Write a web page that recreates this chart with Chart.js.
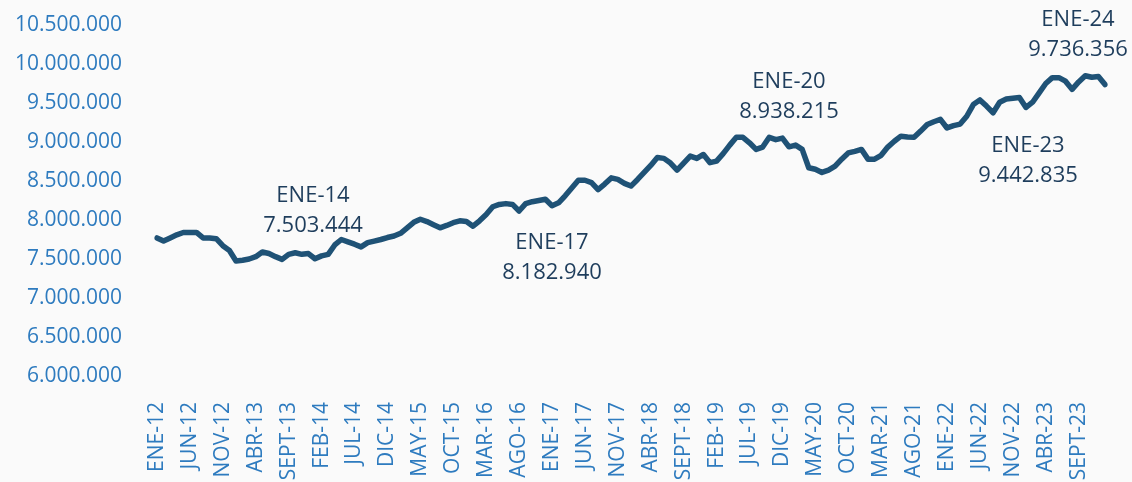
<!DOCTYPE html>
<html>
<head>
<meta charset="utf-8">
<script src="https://cdn.jsdelivr.net/npm/chart.js@4.4.0/dist/chart.umd.min.js"></script>
<style>
  html, body { margin: 0; padding: 0; background: #fafafa; }
  canvas { display: block; }
</style>
</head>
<body>
<canvas id="chartSerie" width="1132" height="482"></canvas>
<script>
const meses = ['ENE','FEB','MAR','ABR','MAY','JUN','JUL','AGO','SEPT','OCT','NOV','DIC'];
const anioInicio = 2012;

const valores = [
  7770000, 7730000, 7770000, 7810000, 7840000, 7840000, 7840000, 7770000, 7770000, 7760000, 7670000, 7610000,
  7475000, 7485000, 7500000, 7530000, 7590000, 7570000, 7530000, 7495000, 7560000, 7580000, 7560000, 7570000,
  7503444, 7540000, 7560000, 7680000, 7750000, 7720000, 7690000, 7655000, 7710000, 7730000, 7750000, 7775000,
  7795000, 7830000, 7900000, 7970000, 8010000, 7980000, 7940000, 7900000, 7930000, 7965000, 7990000, 7980000,
  7920000, 7990000, 8070000, 8170000, 8200000, 8210000, 8200000, 8115000, 8210000, 8235000, 8250000, 8265000,
  8182940, 8220000, 8310000, 8410000, 8510000, 8510000, 8480000, 8390000, 8460000, 8540000, 8520000, 8470000,
  8435000, 8520000, 8610000, 8700000, 8800000, 8790000, 8730000, 8640000, 8730000, 8820000, 8790000, 8840000,
  8735000, 8755000, 8850000, 8960000, 9060000, 9060000, 8990000, 8905000, 8935000, 9060000, 9030000, 9050000,
  8938215, 8960000, 8905000, 8670000, 8650000, 8610000, 8640000, 8690000, 8780000, 8860000, 8880000, 8905000,
  8780000, 8780000, 8830000, 8935000, 9010000, 9075000, 9065000, 9060000, 9140000, 9225000, 9260000, 9290000,
  9180000, 9210000, 9230000, 9330000, 9480000, 9540000, 9460000, 9375000, 9510000, 9550000, 9560000, 9570000,
  9442835, 9510000, 9630000, 9750000, 9825000, 9825000, 9780000, 9675000, 9770000, 9850000, 9830000, 9840000,
  9736356
];

const yMin = 6000000;
const yMax = 10500000;
const yPaso = 500000;
const cadaN = 5; // se rotula un mes de cada cinco

const notaIdx = [24, 60, 96, 132, 144];
const notaMes = ['ENE-14', 'ENE-17', 'ENE-20', 'ENE-23', 'ENE-24'];
const notaValor = ['7.503.444', '8.182.940', '8.938.215', '9.442.835', '9.736.356'];

const etiquetas = valores.map((v, i) => {
  const m = meses[i % 12];
  const a = String((anioInicio + Math.floor(i / 12)) % 100).padStart(2, '0');
  return m + '-' + a;
});

const fmt = n => String(n).replace(/\B(?=(\d{3})+(?!\d))/g, '.');

// donde va cada rotulo respecto a su punto (dx, dy de la primera linea)
const notaPos = [
  { dx: -2, dy: -63 },
  { dx: 0, dy: 37 },
  { dx: 0, dy: -65 },
  { dx: 2, dy: 38 },
  { dx: -27, dy: -65 }
];

const notas = {
  id: 'notas',
  afterDatasetsDraw(chart) {
    const c = chart.ctx;
    const x = chart.scales.x, y = chart.scales.y;
    c.save();
    c.font = '22px "Open Sans"';
    c.fillStyle = '#1e3d5c';
    c.textAlign = 'center';
    c.textBaseline = 'middle';
    notaIdx.forEach((idx, k) => {
      const px = x.getPixelForValue(idx) + notaPos[k].dx;
      const py = y.getPixelForValue(valores[idx]) + notaPos[k].dy;
      c.fillText(notaMes[k], px, py);
      c.fillText(notaValor[k], px, py + 30);
    });
    c.restore();
  }
};

const ctx = document.getElementById('chartSerie');

new Chart(ctx, {
  type: 'line',
  data: {
    labels: etiquetas,
    datasets: [{
      data: valores,
      borderColor: '#1f5276',
      borderWidth: 5.5,
      pointRadius: 0,
      tension: 0,
      borderJoinStyle: 'round',
      borderCapStyle: 'round'
    }]
  },
  plugins: [notas],
  options: {
    responsive: false,
    devicePixelRatio: 1,
    animation: false,
    layout: { padding: { top: 25, right: 27, left: 0, bottom: 0 } },
    plugins: {
      legend: { display: false },
      tooltip: { enabled: false }
    },
    scales: {
      x: {
        offset: false,
        grid: { display: false },
        border: { display: false },
        afterFit(scale) { scale.height = 106; },
        ticks: {
          autoSkip: false,
          maxRotation: 90,
          minRotation: 90,
          padding: 18,
          color: '#2e7bbf',
          font: { family: 'Open Sans', size: 21 },
          callback(val, i) {
            return i % cadaN === 0 ? etiquetas[i] : null;
          }
        }
      },
      y: {
        min: yMin,
        max: yMax,
        grid: { display: false },
        border: { display: false },
        afterFit(scale) {
          scale.width = 157;
          scale.paddingTop = 0;
          scale.paddingBottom = 0;
        },
        ticks: {
          stepSize: yPaso,
          padding: 27,
          color: '#2e7bbf',
          font: { family: 'Open Sans', size: 21 },
          callback: v => fmt(v)
        }
      }
    }
  }
});
</script>
</body>
</html>
